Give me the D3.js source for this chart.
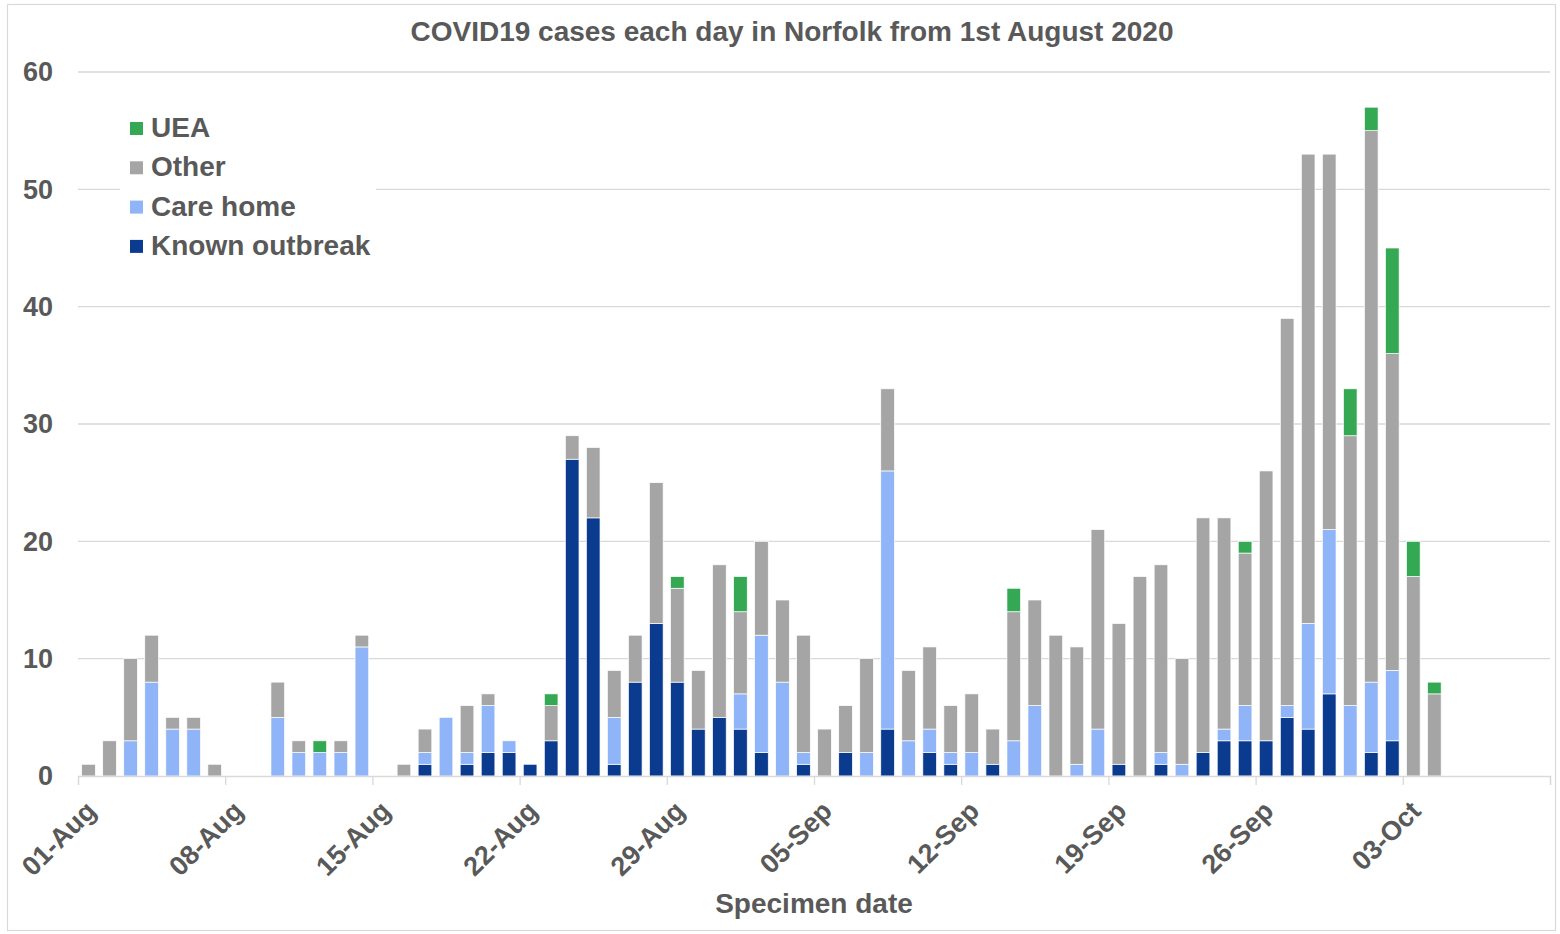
<!DOCTYPE html>
<html>
<head>
<meta charset="utf-8">
<script src="https://cdn.jsdelivr.net/npm/d3@7"></script>
<style>
  html, body { margin: 0; padding: 0; background: #fff; }
  svg { display: block; font-family: "Liberation Sans", Arial, sans-serif; }
</style>
</head>
<body>
<svg id="chart" width="1560" height="934"></svg>
<script>
// Daily case counts by setting, 1 Aug – 4 Oct 2020 (one entry per specimen date)
const knownOutbreak = [0,0,0,0,0,0,0,0,0,0,0,0,0,0,0,0,1,0,1,2,2,1,3,27,22,1,8,13,8,4,5,4,2,0,1,0,2,0,4,0,2,1,0,1,0,0,0,0,0,1,0,1,0,2,3,3,3,5,4,7,0,2,3,0,0];
const careHome      = [0,0,3,8,4,4,0,0,0,5,2,2,2,11,0,0,1,5,1,4,1,0,0,0,0,4,0,0,0,0,0,3,10,8,1,0,0,2,22,3,2,1,2,0,3,6,0,1,4,0,0,1,1,0,1,3,0,1,9,14,6,6,6,0,0];
const other         = [1,3,7,4,1,1,1,0,0,3,1,0,1,1,0,1,2,0,4,1,0,0,3,2,6,4,4,12,8,5,13,7,8,7,10,4,4,8,7,6,7,4,5,3,11,9,12,10,17,12,17,16,9,20,18,13,23,33,40,32,23,47,27,17,7];
const uea           = [0,0,0,0,0,0,0,0,0,0,0,1,0,0,0,0,0,0,0,0,0,0,1,0,0,0,0,0,1,0,0,3,0,0,0,0,0,0,0,0,0,0,0,0,2,0,0,0,0,0,0,0,0,0,0,1,0,0,0,0,4,2,9,3,1];

// Axis categories: every day from 1 Aug to 9 Oct
const firstDay = new Date(2020, 7, 1);
const endDay = new Date(2020, 9, 10);
const days = d3.timeDay.range(firstDay, endDay);

const tickLabels = ["01-Aug","08-Aug","15-Aug","22-Aug","29-Aug","05-Sep","12-Sep","19-Sep","26-Sep","03-Oct",""];
const yTicks = [0,10,20,30,40,50,60];

const seriesNames = ["Known outbreak","Care home","Other","UEA"];
const seriesValues = [knownOutbreak, careHome, other, uea];
const colors = {"Known outbreak":"#0b3b8f","Care home":"#8fb4f7","Other":"#a5a5a5","UEA":"#34a853"};
const legendOrder = ["UEA","Other","Care home","Known outbreak"];

const rows = days.map((d, i) => {
  const r = {date: d};
  seriesNames.forEach((s, k) => { r[s] = seriesValues[k][i] || 0; });
  return r;
});

const textColor = "#595959";
const gridColor = "#d9d9d9";
const plotLeft = 78, plotRight = 1550, plotTop = 72, plotBottom = 776;

const svg = d3.select("#chart");

// chart frame
svg.append("rect")
  .attr("x", 7.5).attr("y", 4.5).attr("width", 1548).attr("height", 926)
  .attr("fill", "#fff").attr("stroke", gridColor).attr("stroke-width", 1.2);

const x = d3.scaleBand().domain(days).range([plotLeft, plotRight])
  .paddingInner(0.35).paddingOuter(0.175);
const xTime = d3.scaleTime().domain([firstDay, endDay]).range([plotLeft, plotRight]);
const y = d3.scaleLinear().domain([0, 60]).range([plotBottom, plotTop]);

// horizontal gridlines
svg.append("g").selectAll("line")
  .data(yTicks.filter(v => v > 0))
  .join("line")
  .attr("x1", plotLeft).attr("x2", plotRight)
  .attr("y1", d => y(d)).attr("y2", d => y(d))
  .attr("stroke", gridColor).attr("stroke-width", 1.3);

// y axis labels
svg.append("g").selectAll("text")
  .data(yTicks)
  .join("text")
  .attr("x", 53).attr("y", d => y(d)).attr("dy", "0.35em")
  .attr("text-anchor", "end")
  .attr("font-size", 27).attr("font-weight", "bold").attr("fill", textColor)
  .text(d => d);

// stacked bars
const stack = d3.stack().keys(seriesNames)(rows);
svg.append("g").selectAll("g")
  .data(stack)
  .join("g")
  .attr("fill", d => colors[d.key])
  .selectAll("rect")
  .data(d => d.filter(p => p[1] - p[0] > 0))
  .join("rect")
  .attr("x", d => x(d.data.date))
  .attr("width", x.bandwidth())
  .attr("y", d => y(d[1]))
  .attr("height", d => y(d[0]) - y(d[1]))
  .attr("stroke", "#fff").attr("stroke-width", 0.7);

// x axis: ticks every seven days at the day boundaries
const tickDates = d3.range(0, days.length + 1, 7).map(i => d3.timeDay.offset(firstDay, i));
const xAxis = d3.axisBottom(xTime)
  .tickValues(tickDates)
  .tickSize(9)
  .tickFormat("");
const gx = svg.append("g").attr("transform", `translate(0,${plotBottom})`).call(xAxis);
gx.select(".domain").attr("stroke", gridColor).attr("stroke-width", 1.3);
gx.selectAll(".tick line").attr("stroke", gridColor).attr("stroke-width", 1.3);

svg.append("g").selectAll("text")
  .data(tickDates.map((d, i) => ({d, label: tickLabels[i] || ""})))
  .join("text")
  .attr("transform", t => `translate(${xTime(t.d) + 13},${plotBottom + 30}) rotate(-45)`)
  .attr("text-anchor", "end")
  .attr("dy", "0.35em")
  .attr("font-size", 27).attr("font-weight", "bold").attr("fill", textColor)
  .text(t => t.label);

// axis title
svg.append("text")
  .attr("x", 814).attr("y", 913)
  .attr("text-anchor", "middle")
  .attr("font-size", 28).attr("font-weight", "bold").attr("fill", textColor)
  .text("Specimen date");

// chart title
svg.append("text")
  .attr("x", 792).attr("y", 41)
  .attr("text-anchor", "middle")
  .attr("font-size", 28).attr("font-weight", "bold").attr("fill", textColor)
  .text("COVID19 cases each day in Norfolk from 1st August 2020");

// legend
const legend = svg.append("g");
legend.append("rect")
  .attr("x", 120).attr("y", 104).attr("width", 256).attr("height", 160)
  .attr("fill", "#fff");
const items = legend.selectAll("g.item")
  .data(legendOrder)
  .join("g").attr("class", "item")
  .attr("transform", (d, i) => `translate(0,${137 + i * 39.3})`);
items.append("rect")
  .attr("x", 130).attr("y", -15).attr("width", 13).attr("height", 13)
  .attr("fill", d => colors[d]);
items.append("text")
  .attr("x", 151).attr("y", 0)
  .attr("font-size", 28).attr("font-weight", "bold").attr("fill", textColor)
  .text(d => d);
</script>
</body>
</html>
